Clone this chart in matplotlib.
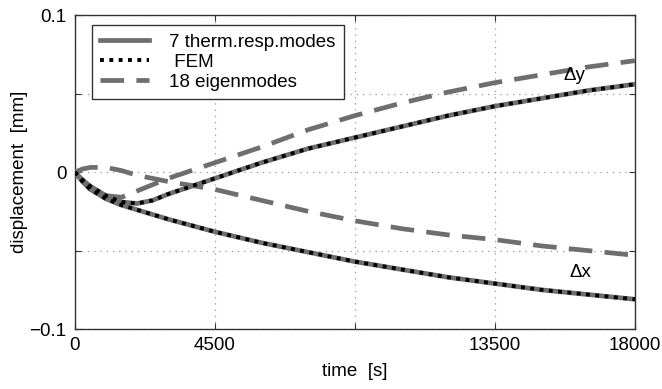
import matplotlib
matplotlib.use("Agg")
import matplotlib.pyplot as plt

# time points [s]
t = [0, 250, 500, 1000, 1500, 2000, 2500, 3000, 4500, 6000, 7500, 9000,
     10500, 12000, 13500, 15000, 16500, 18000]

# 7 therm.resp.modes (FEM lies on top of it)
dx_modes = [0, -0.006, -0.011, -0.017, -0.021, -0.024, -0.027, -0.030, -0.038, -0.045,
            -0.051, -0.057, -0.062, -0.067, -0.071, -0.075, -0.078, -0.081]
dy_modes = [0, -0.005, -0.009, -0.015, -0.019, -0.020, -0.018, -0.014, -0.004, 0.006,
            0.015, 0.022, 0.029, 0.036, 0.042, 0.047, 0.052, 0.056]
dx_fem = [0, -0.006, -0.011, -0.017, -0.021, -0.024, -0.027, -0.030, -0.038, -0.045,
          -0.051, -0.057, -0.062, -0.067, -0.071, -0.075, -0.078, -0.081]
dy_fem = [0, -0.005, -0.009, -0.015, -0.019, -0.020, -0.018, -0.014, -0.004, 0.006,
          0.015, 0.022, 0.029, 0.036, 0.042, 0.047, 0.052, 0.056]

# 18 eigenmodes
dx_eig = [0, 0.002, 0.003, 0.003, 0.001, -0.002, -0.004, -0.006, -0.011, -0.018,
          -0.025, -0.031, -0.036, -0.040, -0.043, -0.047, -0.050, -0.053]
dy_eig = [0, -0.006, -0.011, -0.015, -0.016, -0.012, -0.008, -0.004, 0.006, 0.016,
          0.027, 0.036, 0.044, 0.051, 0.057, 0.062, 0.067, 0.071]

x_ticks = [0, 4500, 9000, 13500, 18000]
x_labels = ["0", "4500", "", "13500", "18000"]
y_ticks = [-0.1, -0.05, 0, 0.05, 0.1]
y_labels = ["\u22120.1", "", "0", "", "0.1"]

plt.rcParams['font.family'] = ['Liberation Sans', 'DejaVu Sans']
fs = 13.5

fig = plt.figure(figsize=(6.62, 3.89), dpi=100)
ax = fig.add_axes([0.113, 0.154, 0.846, 0.807])

gray = '#6e6e6e'
ax.plot(t, dx_modes, color=gray, lw=3.4, label='7 therm.resp.modes', zorder=3)
ax.plot(t, dx_fem, color='black', lw=2.8, ls=(0, (1, 1.4)), label=' FEM', zorder=4)
ax.plot(t, dx_eig, color=gray, lw=3.4, ls=(0, (5, 2.6)), label='18 eigenmodes', zorder=3)
ax.plot(t, dy_modes, color=gray, lw=3.4, zorder=3)
ax.plot(t, dy_fem, color='black', lw=2.8, ls=(0, (1, 1.4)), zorder=4)
ax.plot(t, dy_eig, color=gray, lw=3.4, ls=(0, (5, 2.6)), zorder=3)

ax.text(15700, 0.059, '\u0394y', fontsize=fs)
ax.text(15900, -0.067, '\u0394x', fontsize=fs)

ax.set_xlim(0, 18000)
ax.set_ylim(-0.1, 0.1)
ax.set_xticks(x_ticks)
ax.set_xticklabels(x_labels)
ax.set_yticks(y_ticks)
ax.set_yticklabels(y_labels)
ax.tick_params(direction='in', top=True, right=True, labelsize=fs, length=4,
               color='#333333', pad=6)
ax.grid(True, ls=(0, (1, 4)), color='#999999', lw=0.9)
for s in ax.spines.values():
    s.set_color('#333333')
    s.set_linewidth(1.0)

ax.set_xlabel('time  [s]', fontsize=fs, labelpad=6)
ax.set_ylabel('displacement  [mm]', fontsize=fs, labelpad=1)

leg = ax.legend(loc='upper left', bbox_to_anchor=(0.03, 0.968), fontsize=fs,
                fancybox=False, handlelength=2.6, borderpad=0.45, labelspacing=0.15,
                handletextpad=1.1, borderaxespad=0.0,
                framealpha=1, edgecolor='#333333')
leg.get_frame().set_linewidth(1.0)

fig.savefig('out.png', dpi=100)
